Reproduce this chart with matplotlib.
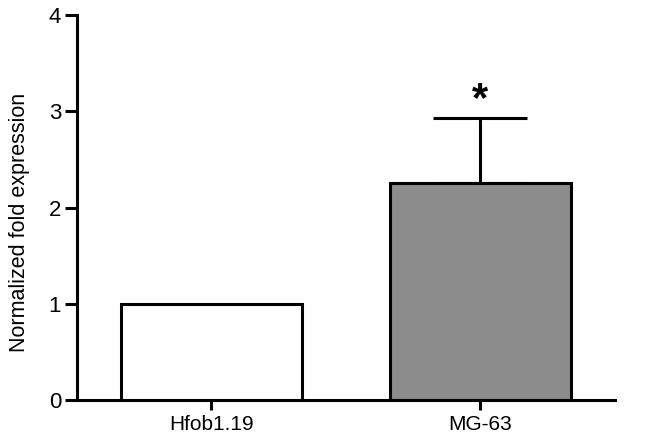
import matplotlib
matplotlib.use("Agg")
from matplotlib import pyplot as plt

categories = ["Hfob1.19", "MG-63"]
values = [1.0, 2.25]
errors = [0.0, 0.68]
colors = ["white", "#8c8c8c"]
y_ticks = [0, 1, 2, 3, 4]

plt.rcParams['font.family'] = ['Liberation Sans', 'DejaVu Sans']

fig = plt.figure(figsize=(6.62, 4.43), dpi=100)
ax = fig.add_axes([0.1163, 0.0971, 0.929 - 0.1163, 0.966 - 0.0971])

x = list(range(len(categories)))
ax.bar(x, values, width=0.67, color=colors, edgecolor="black", linewidth=2.2, zorder=2)

# upper error bar only
ax.errorbar(x[1], values[1], yerr=[[0], [errors[1]]], fmt="none", ecolor="black",
            elinewidth=2.2, capsize=34, capthick=2.2, zorder=1)
ax.text(x[1], values[1] + errors[1] - 0.02, "*", ha="center", va="bottom",
        fontsize=30, fontweight="bold")

ax.set_xlim(-0.5, 1.5)
ax.set_ylim(0, 4)
ax.set_yticks(y_ticks)
ax.set_xticks(x)
ax.set_xticklabels(categories)
ax.set_ylabel("Normalized fold expression", fontsize=15.5)
ax.yaxis.set_label_coords(-0.087, 0.46)

for side in ["top", "right"]:
    ax.spines[side].set_visible(False)
for side in ["left", "bottom"]:
    ax.spines[side].set_linewidth(2.2)
ax.tick_params(axis="y", length=8.5, width=2.2, labelsize=16, pad=3)
ax.tick_params(axis="x", length=7, width=2.2, labelsize=15, pad=4)

fig.savefig("out.png", dpi=100)
